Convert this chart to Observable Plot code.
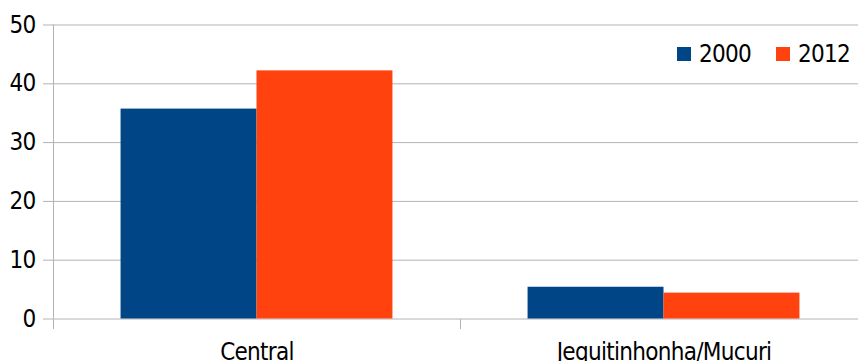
<!DOCTYPE html>
<html>
<head>
<meta charset="utf-8">
<script src="https://cdn.jsdelivr.net/npm/d3@7"></script>
<script src="https://cdn.jsdelivr.net/npm/@observablehq/plot@0.6"></script>
<style>
  html, body { margin: 0; padding: 0; background: #fff; }
  #chart { position: relative; width: 858px; height: 361px; overflow: hidden;
           font-family: "Liberation Sans Narrow", "DejaVu Sans Condensed", "Liberation Sans", sans-serif;
           font-stretch: condensed; }
  #chart svg text { font-stretch: condensed; letter-spacing: -0.7px; }
  #legend { position: absolute; left: 0; top: 42px; width: 858px; height: 24px;
            font-size: 24px; line-height: 24px; color: #000; letter-spacing: -0.7px; }
  #legend .item { position: absolute; top: 0; display: flex; align-items: center; height: 24px; }
  #legend .sw { width: 14px; height: 14px; margin-right: 8px; }
</style>
</head>
<body>
<div id="chart"><div id="legend"></div></div>
<script>
const categories = ["Central", "Jequitinhonha/Mucuri"];
const years = ["2000", "2012"];
const values2000 = [35.7, 5.4];
const values2012 = [42.2, 4.4];
const yTicks = [0, 10, 20, 30, 40, 50];
const colors = ["#004586", "#ff420e"];

const groupWidth = 0.668; // fraction of each category band filled by bars
const half = groupWidth / 2;
const series = [values2000, values2012];

const rows = categories.flatMap((c, i) =>
  years.map((yr, j) => ({
    cat: c, year: yr, value: series[j][i],
    x1: i + 0.5 - half + j * half,
    x2: i + 0.5 - half + (j + 1) * half
  }))
);

const gridColor = "#b3b3b3";
const font = "'Liberation Sans Narrow', 'DejaVu Sans Condensed', 'Liberation Sans', sans-serif";

const plot = Plot.plot({
  width: 858,
  height: 361,
  marginLeft: 53,
  marginRight: 0,
  marginTop: 24,
  marginBottom: 42,
  style: { fontFamily: font, fontSize: "24px", color: "#000", background: "transparent", overflow: "visible" },
  x: { type: "linear", domain: [0, categories.length], range: [53, 867] },
  y: { domain: [0, 50], range: [318.5, 24.5] },
  color: { domain: years, range: colors },
  marks: [
    Plot.ruleY(yTicks, { y: d => d, stroke: gridColor, strokeWidth: 1 }),
    Plot.rectY(rows, { x1: "x1", x2: "x2", y1: 0, y2: "value", fill: "year" }),
    Plot.ruleX([0], { x: d => d, y1: 0, y2: 50, stroke: gridColor }),
    Plot.axisY(yTicks, { tickSize: 10, tickPadding: 8, stroke: gridColor, fill: "#000", fontSize: 24, label: null }),
    Plot.axisX(d3.range(categories.length + 1), { tickSize: 10, tickFormat: () => "", stroke: gridColor, label: null }),
    Plot.axisX(categories.map((c, i) => i + 0.5), {
      tickSize: 0, tickPadding: 23, fill: "#000", fontSize: 24, label: null,
      tickFormat: d => categories[Math.floor(d)]
    })
  ]
});

document.getElementById("chart").prepend(plot);

const legendLefts = [677, 776];
const legend = document.getElementById("legend");
years.forEach((yr, j) => {
  const item = document.createElement("div");
  item.className = "item";
  item.style.left = legendLefts[j] + "px";
  const sw = document.createElement("div");
  sw.className = "sw";
  sw.style.background = colors[j];
  const t = document.createElement("span");
  t.textContent = yr;
  item.append(sw, t);
  legend.append(item);
});
</script>
</body>
</html>
